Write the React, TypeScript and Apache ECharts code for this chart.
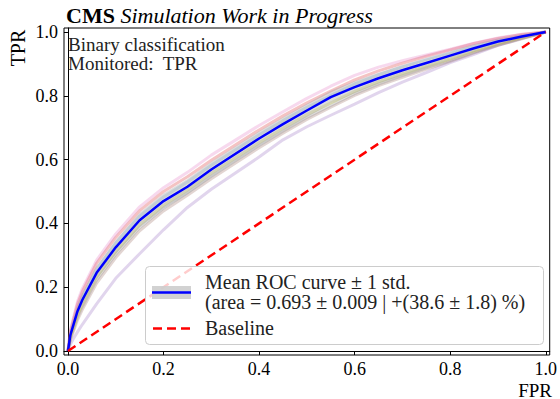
import React, { useEffect, useRef } from "react";
import * as echarts from "echarts";

const FPR = [0, 0.005, 0.01, 0.02, 0.03, 0.06, 0.1, 0.15, 0.2, 0.25, 0.3, 0.4, 0.45, 0.5, 0.55, 0.6, 0.65, 0.7, 0.75, 0.8, 0.85, 0.9, 0.95, 1.0];
const MEAN_TPR = [0, 0.05, 0.075, 0.125, 0.16, 0.245, 0.325, 0.41, 0.47, 0.515, 0.569, 0.666, 0.711, 0.754, 0.796, 0.827, 0.855, 0.88, 0.903, 0.926, 0.949, 0.97, 0.986, 1.0];
const STD_TPR = [0, 0.01, 0.012, 0.015, 0.017, 0.02, 0.022, 0.023, 0.024, 0.024, 0.024, 0.023, 0.022, 0.021, 0.02, 0.019, 0.017, 0.016, 0.014, 0.012, 0.01, 0.007, 0.004, 0];

const RUN_PINK = [0, 0.065, 0.095, 0.155, 0.195, 0.285, 0.367, 0.452, 0.512, 0.56, 0.614, 0.707, 0.75, 0.792, 0.83, 0.864, 0.89, 0.91, 0.928, 0.946, 0.965, 0.981, 0.993, 1];
const RUN_RED = [0, 0.06, 0.09, 0.147, 0.186, 0.275, 0.356, 0.44, 0.5, 0.546, 0.598, 0.693, 0.737, 0.778, 0.815, 0.85, 0.878, 0.902, 0.924, 0.944, 0.964, 0.98, 0.992, 1];
const RUN_BLUE = [0, 0.055, 0.083, 0.135, 0.172, 0.258, 0.339, 0.423, 0.483, 0.53, 0.582, 0.678, 0.722, 0.764, 0.801, 0.837, 0.866, 0.891, 0.914, 0.935, 0.957, 0.975, 0.989, 1];
const RUN_OLIVE = [0, 0.043, 0.066, 0.113, 0.147, 0.232, 0.312, 0.396, 0.457, 0.505, 0.557, 0.653, 0.698, 0.741, 0.778, 0.814, 0.844, 0.869, 0.893, 0.916, 0.941, 0.963, 0.982, 1];
const RUN_GRAY = [0, 0.04, 0.062, 0.106, 0.139, 0.223, 0.303, 0.387, 0.448, 0.496, 0.548, 0.644, 0.689, 0.732, 0.77, 0.807, 0.837, 0.863, 0.888, 0.911, 0.937, 0.96, 0.98, 1];
const RUN_BROWN = [0, 0.036, 0.056, 0.098, 0.13, 0.213, 0.293, 0.377, 0.439, 0.488, 0.54, 0.637, 0.683, 0.726, 0.764, 0.801, 0.832, 0.858, 0.884, 0.908, 0.935, 0.958, 0.979, 1];
const RUN_PURPLE = [0, 0.02, 0.035, 0.06, 0.083, 0.148, 0.228, 0.305, 0.38, 0.45, 0.507, 0.608, 0.662, 0.703, 0.739, 0.774, 0.81, 0.843, 0.873, 0.904, 0.93, 0.958, 0.98, 1];

const RUNS = [
  { data: RUN_PURPLE, color: "rgba(148,103,189,0.28)" },
  { data: RUN_BROWN, color: "rgba(140,86,75,0.25)" },
  { data: RUN_GRAY, color: "rgba(127,127,127,0.25)" },
  { data: RUN_OLIVE, color: "rgba(188,189,34,0.3)" },
  { data: RUN_BLUE, color: "rgba(31,119,180,0.2)" },
  { data: RUN_RED, color: "rgba(214,39,40,0.28)" },
  { data: RUN_PINK, color: "rgba(227,119,194,0.28)" },
];

const BASELINE_X = [0, 1];
const BASELINE_Y = [0, 1];
const X_TICKS = [0, 0.2, 0.4, 0.6, 0.8, 1.0];
const Y_TICKS = [0, 0.2, 0.4, 0.6, 0.8, 1.0];

const TITLE_BOLD = "CMS";
const TITLE_ITALIC = "Simulation Work in Progress";
const ANNOT_LINES = ["Binary classification", "Monitored:  TPR"];
const LEGEND_LABELS = ["Mean ROC curve \u00b1 1 std.", "(area = 0.693 \u00b1 0.009 | +(38.6 \u00b1 1.8) %)", "Baseline"];

const FONT = "Liberation Serif";

export default function App() {
  const ref = useRef<HTMLDivElement>(null);
  useEffect(() => {
    document.body.style.margin = "0";
    if (!ref.current) return;
    const chart = echarts.init(ref.current, null, { renderer: "svg" });
    const pair = (ys: number[]) => FPR.map((x, i) => [x, ys[i]]);
    const upper = MEAN_TPR.map((m, i) => m + STD_TPR[i]);
    const lower = MEAN_TPR.map((m, i) => m - STD_TPR[i]);
    const series: any[] = RUNS.map((r) => ({
      type: "line",
      data: pair(r.data),
      showSymbol: false,
      lineStyle: { color: r.color, width: 3 },
      z: 2,
      silent: true,
    }));
    series.push({
      type: "custom",
      data: [[0, 0]],
      z: 3,
      silent: true,
      renderItem: (params: any, api: any) => {
        if (params.dataIndex !== 0) return null;
        const pts: number[][] = [];
        for (let i = 0; i < FPR.length; i++) pts.push(api.coord([FPR[i], upper[i]]));
        for (let i = FPR.length - 1; i >= 0; i--) pts.push(api.coord([FPR[i], Math.max(0, lower[i])]));
        return {
          type: "polygon",
          shape: { points: pts },
          style: { fill: "rgba(170,170,170,0.4)" },
        };
      },
    });
    series.push({
      type: "line",
      data: pair(MEAN_TPR),
      showSymbol: false,
      lineStyle: { color: "#0000ff", width: 2.5 },
      z: 5,
      silent: true,
    });
    series.push({
      type: "line",
      data: BASELINE_X.map((x, i) => [x, BASELINE_Y[i]]),
      showSymbol: false,
      lineStyle: { color: "#ff0000", width: 2.5, type: [9, 5] },
      z: 6,
      silent: true,
    });

    const axisCommon = {
      type: "value",
      axisLine: { show: true, lineStyle: { color: "#000", width: 1 } },
      splitLine: { show: false },
    };

    chart.setOption({
      animation: false,
      grid: { left: 64, right: 8, top: 28, bottom: 44, show: true, borderColor: "#000", borderWidth: 1 },
      xAxis: {
        ...axisCommon,
        min: -0.0083,
        max: 1.0083,
        axisTick: { show: true, customValues: X_TICKS, length: 4, lineStyle: { color: "#000" } },
        axisLabel: {
          customValues: X_TICKS,
          formatter: (v: number) => v.toFixed(1),
          fontFamily: FONT,
          fontSize: 18,
          color: "#000",
          margin: 5,
        },
      },
      yAxis: {
        ...axisCommon,
        min: -0.0125,
        max: 1.0125,
        axisTick: { show: true, customValues: Y_TICKS, length: 4, lineStyle: { color: "#000" } },
        axisLabel: {
          customValues: Y_TICKS,
          formatter: (v: number) => v.toFixed(1),
          fontFamily: FONT,
          fontSize: 18,
          color: "#000",
          margin: 6,
        },
      },
      series,
      graphic: [
        {
          type: "text",
          x: 66,
          y: 15,
          style: {
            text: `{b|${TITLE_BOLD}} {i|${TITLE_ITALIC}}`,
            verticalAlign: "middle",
            rich: {
              b: { fontFamily: FONT, fontWeight: "bold", fontSize: 22, fill: "#000" },
              i: { fontFamily: FONT, fontStyle: "italic", fontSize: 22, fill: "#000" },
            },
            fontFamily: FONT,
            fontSize: 22,
            fill: "#000",
          },
        },
        {
          type: "text",
          x: 18,
          y: 48,
          rotation: Math.PI / 2,
          style: { text: "TPR", fontFamily: FONT, fontSize: 20, fill: "#000", align: "center", verticalAlign: "middle" },
        },
        {
          type: "text",
          x: 552,
          y: 390,
          style: { text: "FPR", fontFamily: FONT, fontSize: 19, fill: "#000", align: "right", verticalAlign: "middle" },
        },
        ...ANNOT_LINES.map((t, i) => ({
          type: "text",
          x: 68,
          y: 44 + i * 19,
          z: 10,
          style: { text: t, fontFamily: FONT, fontSize: 19, fill: "#222", verticalAlign: "middle" },
        })),
        {
          type: "rect",
          z: 20,
          shape: { x: 145.5, y: 266.5, width: 398, height: 78, r: 4 },
          style: { fill: "rgba(255,255,255,0.8)", stroke: "#cccccc", lineWidth: 1 },
        },
        {
          type: "rect",
          z: 21,
          shape: { x: 152, y: 286, width: 39, height: 13 },
          style: { fill: "rgba(205,205,205,0.9)" },
        },
        {
          type: "line",
          z: 22,
          shape: { x1: 152, y1: 292.5, x2: 191, y2: 292.5 },
          style: { stroke: "#0000ff", lineWidth: 2.5 },
        },
        {
          type: "line",
          z: 22,
          shape: { x1: 153, y1: 328.5, x2: 191, y2: 328.5 },
          style: { stroke: "#ff0000", lineWidth: 2.5, lineDash: [9, 5] },
        },
        ...LEGEND_LABELS.map((t, i) => ({
          type: "text",
          z: 22,
          x: 205,
          y: [281.5, 301.5, 328][i],
          style: { text: t, fontFamily: FONT, fontSize: 20, fill: "#222", verticalAlign: "middle" },
        })),
      ],
    });
    return () => chart.dispose();
  }, []);
  return <div ref={ref} style={{ width: 560, height: 399 }} />;
}
